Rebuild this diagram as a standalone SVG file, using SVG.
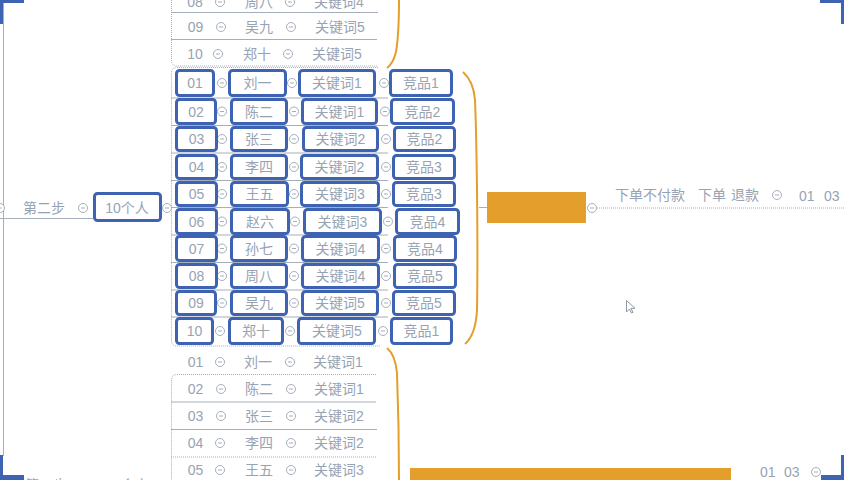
<svg xmlns="http://www.w3.org/2000/svg" width="844" height="480" viewBox="0 0 844 480">
<style>
.t{font-family:"Liberation Sans","Noto Sans CJK SC",sans-serif;font-size:14px;fill:#97A3B3;text-anchor:middle;dominant-baseline:central}
.ts{text-anchor:start}
.bx{fill:#fff;stroke:#3F63B3;stroke-width:3}
.ln{stroke:#A5AFBC;stroke-width:1;fill:none}
.dl{stroke:#A5AFBC;stroke-width:1;fill:none;stroke-dasharray:1 1}
.br{stroke:#E39E2B;stroke-width:2;fill:none}
.corner{fill:#3F63B3}
</style>
<defs>
<g id="cm"><circle r="4.5" fill="#fff" stroke="#A5AFBC" stroke-width="1"/><line x1="-2" y1="0" x2="2" y2="0" stroke="#A5AFBC" stroke-width="1"/></g>
</defs>
<rect width="844" height="480" fill="#fff"/>

<g id="connectors">
  <line class="ln" x1="3.5" y1="0" x2="3.5" y2="456"/>
  <line class="ln" x1="0" y1="218.5" x2="93" y2="218.5"/>
  <line class="dl" x1="597" y1="208" x2="844" y2="208"/>
  <line class="ln" x1="479" y1="207.5" x2="487" y2="207.5"/>
  <path class="dl" d="M171.5 0 V60 Q171.5 66 177 66 H378"/>
  <line class="ln" x1="171" y1="12.5" x2="378" y2="12.5"/>
  <line class="ln" x1="171" y1="39.5" x2="377" y2="39.5"/>
  <path class="dl" d="M378 67.5 H177 Q171.5 67.5 171.5 73 V340 Q171.5 346 177 346 H380"/>
  <g class="ln">
    <line x1="171" y1="98" x2="388" y2="98"/>
    <line x1="171" y1="125.5" x2="388" y2="125.5"/>
    <line x1="171" y1="153" x2="388" y2="153"/>
    <line x1="171" y1="180.5" x2="388" y2="180.5"/>
    <line x1="171" y1="207.5" x2="388" y2="207.5"/>
    <line x1="171" y1="235" x2="388" y2="235"/>
    <line x1="171" y1="262.5" x2="388" y2="262.5"/>
    <line x1="171" y1="290" x2="388" y2="290"/>
    <line x1="171" y1="317" x2="388" y2="317"/>
  </g>
  <path class="dl" d="M376 374.5 H177 Q171.5 374.5 171.5 380 V480"/>
  <line class="ln" x1="171" y1="402" x2="376" y2="402"/>
  <line class="ln" x1="171" y1="429.5" x2="377" y2="429.5"/>
  <line class="dl" x1="171" y1="457" x2="377" y2="457"/>
  <path class="br" d="M399 0 C399 20 398 40 396 52 C394 60 391 65 387 68"/>
  <path class="br" d="M463 72 C470 78 474 88 475 100 C477 150 478 250 477 310 C476 328 472 338 465 344"/>
  <path class="br" d="M387 348 C393 353 396 362 397 373 C398 400 399 440 399 480"/>
</g>

<g id="corners">
  <rect class="corner" x="0" y="0" width="24" height="3"/>
  <rect class="corner" x="0" y="0" width="3" height="24"/>
  <rect class="corner" x="820" y="0" width="24" height="3"/>
  <rect class="corner" x="841" y="0" width="3" height="24"/>
  <rect class="corner" x="0" y="475" width="24" height="5"/>
  <rect class="corner" x="0" y="455" width="3" height="25"/>
  <rect class="corner" x="821" y="475" width="23" height="5"/>
  <rect class="corner" x="841" y="455" width="3" height="25"/>
</g>

<g id="step2">
  <use href="#cm" x="0" y="208"/>
  <text class="t" x="44" y="208">第二步</text>
  <use href="#cm" x="83" y="208"/>
</g>
<g id="people10">
  <use href="#cm" x="167" y="208"/>
  <rect class="bx" x="94.5" y="193.5" width="66" height="27" rx="3"/>
  <text class="t" x="127" y="208">10个人</text>
</g>

<g id="top-rows">
  <text class="t" x="195" y="2">08</text><use href="#cm" x="220" y="2"/><text class="t" x="259" y="2">周八</text><use href="#cm" x="290" y="2"/><text class="t" x="339" y="2">关键词4</text>
  <text class="t" x="195.5" y="27">09</text><use href="#cm" x="221" y="27"/><text class="t" x="259" y="27">吴九</text><use href="#cm" x="291" y="27"/><text class="t" x="340" y="27">关键词5</text>
  <text class="t" x="195" y="54">10</text><use href="#cm" x="218" y="54"/><text class="t" x="257" y="54">郑十</text><use href="#cm" x="288" y="54"/><text class="t" x="337" y="54">关键词5</text>
</g>

<g id="mid-circles">
  <use href="#cm" x="222" y="83"/><use href="#cm" x="292" y="83"/><use href="#cm" x="384" y="83"/>
  <use href="#cm" x="222" y="111.5"/><use href="#cm" x="294" y="111.5"/><use href="#cm" x="385" y="111.5"/>
  <use href="#cm" x="222" y="139"/><use href="#cm" x="294" y="139"/><use href="#cm" x="386" y="139"/>
  <use href="#cm" x="222" y="167"/><use href="#cm" x="294" y="167"/><use href="#cm" x="386" y="167"/>
  <use href="#cm" x="222" y="194"/><use href="#cm" x="294" y="194"/><use href="#cm" x="386" y="194"/>
  <use href="#cm" x="222" y="221.5"/><use href="#cm" x="295" y="221.5"/><use href="#cm" x="388" y="221.5"/>
  <use href="#cm" x="222" y="248.5"/><use href="#cm" x="294" y="248.5"/><use href="#cm" x="386" y="248.5"/>
  <use href="#cm" x="222" y="276"/><use href="#cm" x="294" y="276"/><use href="#cm" x="386" y="276"/>
  <use href="#cm" x="222" y="303"/><use href="#cm" x="294" y="303"/><use href="#cm" x="386" y="303"/>
  <use href="#cm" x="220" y="331"/><use href="#cm" x="290" y="331"/><use href="#cm" x="383" y="331"/>
</g>

<g id="row01"><rect class="bx" x="176.5" y="70.5" width="37" height="25" rx="3"/><rect class="bx" x="229.5" y="70.5" width="56" height="25" rx="3"/><rect class="bx" x="299.5" y="70.5" width="75" height="25" rx="3"/><rect class="bx" x="390.5" y="70.5" width="61" height="25" rx="3"/>
<text class="t" x="195" y="83">01</text><text class="t" x="257.5" y="83">刘一</text><text class="t" x="337" y="83">关键词1</text><text class="t" x="421" y="83">竞品1</text></g>
<g id="row02"><rect class="bx" x="176.5" y="99.5" width="39" height="24" rx="3"/><rect class="bx" x="231.5" y="99.5" width="55" height="24" rx="3"/><rect class="bx" x="302.5" y="99.5" width="74" height="24" rx="3"/><rect class="bx" x="391.5" y="99.5" width="62" height="24" rx="3"/>
<text class="t" x="196" y="111.5">02</text><text class="t" x="259" y="111.5">陈二</text><text class="t" x="339.5" y="111.5">关键词1</text><text class="t" x="422.5" y="111.5">竞品2</text></g>
<g id="row03"><rect class="bx" x="176.5" y="127.5" width="40" height="23" rx="3"/><rect class="bx" x="231.5" y="127.5" width="55" height="23" rx="3"/><rect class="bx" x="303.5" y="127.5" width="74" height="23" rx="3"/><rect class="bx" x="394.5" y="127.5" width="60" height="23" rx="3"/>
<text class="t" x="196.5" y="139">03</text><text class="t" x="259" y="139">张三</text><text class="t" x="340.5" y="139">关键词2</text><text class="t" x="424.5" y="139">竞品2</text></g>
<g id="row04"><rect class="bx" x="176.5" y="155.5" width="40" height="23" rx="3"/><rect class="bx" x="231.5" y="155.5" width="55" height="23" rx="3"/><rect class="bx" x="301.5" y="155.5" width="76" height="23" rx="3"/><rect class="bx" x="393.5" y="155.5" width="61" height="23" rx="3"/>
<text class="t" x="196.5" y="167">04</text><text class="t" x="259" y="167">李四</text><text class="t" x="339.5" y="167">关键词2</text><text class="t" x="424" y="167">竞品3</text></g>
<g id="row05"><rect class="bx" x="176.5" y="182.5" width="40" height="23" rx="3"/><rect class="bx" x="231.5" y="182.5" width="56" height="23" rx="3"/><rect class="bx" x="301.5" y="182.5" width="77" height="23" rx="3"/><rect class="bx" x="393.5" y="182.5" width="61" height="23" rx="3"/>
<text class="t" x="196.5" y="194">05</text><text class="t" x="259.5" y="194">王五</text><text class="t" x="340" y="194">关键词3</text><text class="t" x="424" y="194">竞品3</text></g>
<g id="row06"><rect class="bx" x="176.5" y="209.5" width="40" height="24" rx="3"/><rect class="bx" x="231.5" y="209.5" width="57" height="24" rx="3"/><rect class="bx" x="304.5" y="209.5" width="76" height="24" rx="3"/><rect class="bx" x="396.5" y="209.5" width="62" height="24" rx="3"/>
<text class="t" x="196.5" y="221.5">06</text><text class="t" x="260" y="221.5">赵六</text><text class="t" x="342.5" y="221.5">关键词3</text><text class="t" x="427.5" y="221.5">竞品4</text></g>
<g id="row07"><rect class="bx" x="176.5" y="236.5" width="40" height="24" rx="3"/><rect class="bx" x="231.5" y="236.5" width="55" height="24" rx="3"/><rect class="bx" x="302.5" y="236.5" width="76" height="24" rx="3"/><rect class="bx" x="394.5" y="236.5" width="61" height="24" rx="3"/>
<text class="t" x="196.5" y="248.5">07</text><text class="t" x="259" y="248.5">孙七</text><text class="t" x="340.5" y="248.5">关键词4</text><text class="t" x="425" y="248.5">竞品4</text></g>
<g id="row08"><rect class="bx" x="176.5" y="264.5" width="40" height="23" rx="3"/><rect class="bx" x="231.5" y="264.5" width="55" height="23" rx="3"/><rect class="bx" x="302.5" y="264.5" width="76" height="23" rx="3"/><rect class="bx" x="394.5" y="264.5" width="61" height="23" rx="3"/>
<text class="t" x="196.5" y="276">08</text><text class="t" x="259" y="276">周八</text><text class="t" x="340.5" y="276">关键词4</text><text class="t" x="425" y="276">竞品5</text></g>
<g id="row09"><rect class="bx" x="176.5" y="291.5" width="39" height="23" rx="3"/><rect class="bx" x="231.5" y="291.5" width="55" height="23" rx="3"/><rect class="bx" x="302.5" y="291.5" width="75" height="23" rx="3"/><rect class="bx" x="393.5" y="291.5" width="61" height="23" rx="3"/>
<text class="t" x="196" y="303">09</text><text class="t" x="259" y="303">吴九</text><text class="t" x="340" y="303">关键词5</text><text class="t" x="424" y="303">竞品5</text></g>
<g id="row10"><rect class="bx" x="176.5" y="318.5" width="36" height="25" rx="3"/><rect class="bx" x="229.5" y="318.5" width="53" height="25" rx="3"/><rect class="bx" x="298.5" y="318.5" width="76" height="25" rx="3"/><rect class="bx" x="391.5" y="318.5" width="60" height="25" rx="3"/>
<text class="t" x="194.5" y="331">10</text><text class="t" x="256" y="331">郑十</text><text class="t" x="337" y="331">关键词5</text><text class="t" x="421.5" y="331">竞品1</text></g>

<g id="bottom-rows">
  <text class="t" x="195.5" y="362">01</text><use href="#cm" x="220" y="362"/><text class="t" x="258" y="362">刘一</text><use href="#cm" x="290" y="362"/><text class="t" x="338" y="362">关键词1</text>
  <text class="t" x="195.5" y="389">02</text><use href="#cm" x="221" y="389"/><text class="t" x="259" y="389">陈二</text><use href="#cm" x="291" y="389"/><text class="t" x="339" y="389">关键词1</text>
  <text class="t" x="195.5" y="416">03</text><use href="#cm" x="221" y="416"/><text class="t" x="259" y="416">张三</text><use href="#cm" x="291" y="416"/><text class="t" x="339" y="416">关键词2</text>
  <text class="t" x="195.5" y="443">04</text><use href="#cm" x="220" y="443"/><text class="t" x="259" y="443">李四</text><use href="#cm" x="291" y="443"/><text class="t" x="339" y="443">关键词2</text>
  <text class="t" x="195.5" y="470">05</text><use href="#cm" x="220" y="470"/><text class="t" x="259" y="470">王五</text><use href="#cm" x="291" y="470"/><text class="t" x="339" y="470">关键词3</text>
</g>

<g id="orange-node">
  <rect x="487" y="192" width="99" height="31" fill="#E39E2B"/>
  <use href="#cm" x="592" y="208"/>
</g>
<g id="right-branch">
  <text class="t ts" x="615" y="195">下单不付款</text>
  <text class="t ts" x="698" y="195">下单</text>
  <text class="t ts" x="731" y="195">退款</text>
  <use href="#cm" x="777" y="195"/>
  <text class="t ts" x="799" y="196">01</text>
  <text class="t ts" x="824" y="196">03</text>
</g>
<g id="bottom-branch">
  <rect x="410" y="468" width="321" height="12" fill="#E39E2B"/>
  <text class="t ts" x="760" y="472">01</text>
  <text class="t ts" x="784" y="472">03</text>
  <use href="#cm" x="816" y="472"/>
</g>
<g id="bottom-left">
  <text class="t" x="46" y="485">第二步</text>
  <text class="t" x="127" y="485">10个人</text>
</g>
<g id="cursor">
  <path d="M626.5 300.5 V312 L629.5 309 L631.5 313 L633 312.3 L631 308.3 L635 308.3 Z" fill="#fff" stroke="#8E98A6" stroke-width="1"/>
</g>
</svg>
